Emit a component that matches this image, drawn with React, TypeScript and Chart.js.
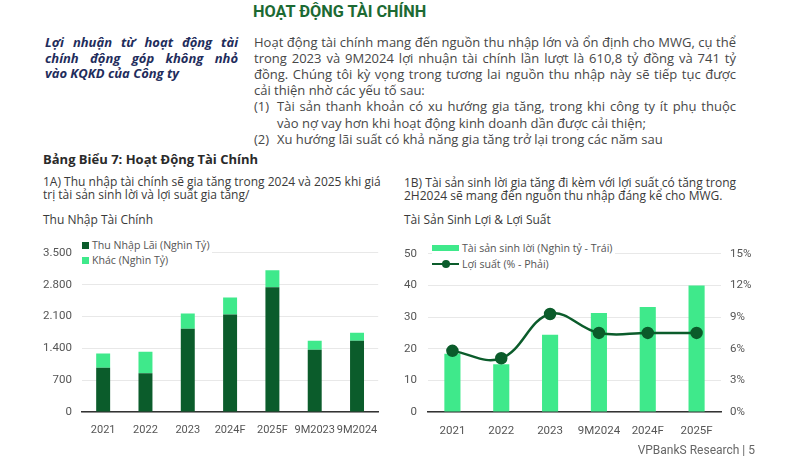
import React, { useEffect, useRef } from "react";
import { Chart, registerables } from "chart.js";

Chart.register(...registerables);

// ---- Data ----
const incomeCategories = ["2021", "2022", "2023", "2024F", "2025F", "9M2023", "9M2024"];
const interestIncome = [971, 851, 1829, 2146, 2744, 1372, 1569];
const otherIncome = [316, 472, 338, 373, 372, 197, 176];
const incomeTickStep = 700;
const incomeMax = 3500;

const assetCategories = ["2021", "2022", "2023", "9M2024", "2024F", "2025F"];
const earningAssets = [18.4, 15.1, 24.4, 31.3, 33.2, 40];
const yieldPct = [5.8, 5.1, 9.3, 7.5, 7.5, 7.5];
const assetMax = 50;
const assetStep = 10;
const yieldMax = 15;
const yieldStep = 3;

const FONT = "Roboto, 'Noto Sans', sans-serif";
const TEXT_FONT = "'Open Sans', 'Noto Sans', sans-serif";
const DARK = "#0b5c2b";
const LIGHT = "#3fe98b";
const TICK = "#555555";
const GRID = "#e8e8e8";

const fmtThousand = (v: number) =>
  String(Math.round(v)).replace(/\B(?=(\d{3})+(?!\d))/g, ".");

function LeftChart() {
  const ref = useRef<HTMLCanvasElement | null>(null);
  useEffect(() => {
    if (!ref.current) return;
    const chart = new Chart(ref.current, {
      type: "bar",
      data: {
        labels: incomeCategories,
        datasets: [
          {
            label: "Thu Nhập Lãi (Nghìn Tỷ)",
            data: interestIncome,
            backgroundColor: DARK,
            stack: "s",
            barPercentage: 0.33,
            categoryPercentage: 1,
          },
          {
            label: "Khác (Nghìn Tỷ)",
            data: otherIncome,
            backgroundColor: LIGHT,
            stack: "s",
            barPercentage: 0.33,
            categoryPercentage: 1,
          },
        ],
      },
      options: {
        animation: false,
        responsive: false,
        maintainAspectRatio: false,
        layout: { padding: { left: 10, right: 10, top: 11, bottom: 0 } },
        plugins: { legend: { display: false }, tooltip: { enabled: false } },
        scales: {
          x: {
            stacked: true,
            grid: { display: false, drawTicks: false },
            border: { display: true, color: "#333333", width: 1.5 },
            ticks: { padding: 12, color: TICK, font: { family: FONT, size: 11 }, maxRotation: 0, autoSkip: false },
            afterFit: (s: any) => { s.height = 40; },
          },
          y: {
            stacked: true,
            min: 0,
            max: incomeMax,
            ticks: {
              stepSize: incomeTickStep,
              padding: 10,
              color: TICK,
              font: { family: FONT, size: 11.5 },
              callback: (v: any) => fmtThousand(Number(v)),
            },
            grid: { color: GRID, drawTicks: false },
            border: { display: false },
            afterFit: (s: any) => { s.width = 42; },
          },
        },
      } as any,
    });
    return () => chart.destroy();
  }, []);
  return (
    <canvas
      ref={ref}
      width={360}
      height={216}
      style={{ position: "absolute", left: 30, top: 236, width: 360, height: 216 }}
    />
  );
}

function RightChart() {
  const ref = useRef<HTMLCanvasElement | null>(null);
  useEffect(() => {
    if (!ref.current) return;
    const chart = new Chart(ref.current, {
      type: "bar",
      data: {
        labels: assetCategories,
        datasets: [
          {
            type: "line",
            label: "Lợi suất (% - Phải)",
            data: yieldPct,
            yAxisID: "y1",
            borderColor: DARK,
            backgroundColor: DARK,
            borderWidth: 2.5,
            pointRadius: 5,
            pointBackgroundColor: DARK,
            pointBorderColor: DARK,
            tension: 0.4,
            order: 0,
          },
          {
            type: "bar",
            label: "Tài sản sinh lời (Nghìn tỷ - Trái)",
            data: earningAssets,
            yAxisID: "y",
            backgroundColor: LIGHT,
            barPercentage: 0.33,
            categoryPercentage: 1,
            order: 1,
          },
        ],
      },
      options: {
        animation: false,
        responsive: false,
        maintainAspectRatio: false,
        layout: { padding: { left: 10, right: 31, top: 10, bottom: 0 } },
        plugins: { legend: { display: false }, tooltip: { enabled: false } },
        scales: {
          x: {
            grid: { display: false, drawTicks: false },
            border: { display: true, color: "#333333", width: 1.5 },
            ticks: { padding: 12, color: TICK, font: { family: FONT, size: 11.5 }, maxRotation: 0, autoSkip: false },
            afterFit: (s: any) => { s.height = 40; },
          },
          y: {
            position: "left",
            min: 0,
            max: assetMax,
            ticks: { stepSize: assetStep, padding: 11, color: TICK, font: { family: FONT, size: 11.5 } },
            grid: { color: GRID, drawTicks: false },
            border: { display: false },
            afterFit: (s: any) => { s.width = 38; },
          },
          y1: {
            position: "right",
            min: 0,
            max: yieldMax,
            ticks: {
              stepSize: yieldStep,
              padding: 9,
              color: TICK,
              font: { family: FONT, size: 11.5 },
              callback: (v: any) => `${v}%`,
            },
            grid: { display: false, drawTicks: false },
            border: { display: false },
            afterFit: (s: any) => { s.width = 40; },
          },
        },
      } as any,
    });
    return () => chart.destroy();
  }, []);
  return (
    <canvas
      ref={ref}
      width={412}
      height={216}
      style={{ position: "absolute", left: 380, top: 236, width: 412, height: 216 }}
    />
  );
}

const abs = (left: number, top: number, extra: React.CSSProperties = {}): React.CSSProperties => ({
  position: "absolute",
  left,
  top,
  whiteSpace: "nowrap",
  ...extra,
});

const paraLines: { text: string; indent: number; justify: boolean; marker?: string }[] = [
  { text: "Hoạt động tài chính mang đến nguồn thu nhập lớn và ổn định cho MWG, cụ thể", indent: 0, justify: true },
  { text: "trong 2023 và 9M2024 lợi nhuận tài chính lần lượt là 610,8 tỷ đồng và 741 tỷ", indent: 0, justify: true },
  { text: "đồng. Chúng tôi kỳ vọng trong tương lai nguồn thu nhập này sẽ tiếp tục được", indent: 0, justify: true },
  { text: "cải thiện nhờ các yếu tố sau:", indent: 0, justify: false },
  { text: "Tài sản thanh khoản có xu hướng gia tăng, trong khi công ty ít phụ thuộc", indent: 23, justify: true, marker: "(1)" },
  { text: "vào nợ vay hơn khi hoạt động kinh doanh dần được cải thiện;", indent: 23, justify: false },
  { text: "Xu hướng lãi suất có khả năng gia tăng trở lại trong các năm sau", indent: 23, justify: false, marker: "(2)" },
];

const sideLines = [
  { text: "Lợi nhuận từ hoạt động tài", justify: true },
  { text: "chính động góp không nhỏ", justify: true },
  { text: "vào KQKD của Công ty", justify: false },
];

export default function App() {
  useEffect(() => {
    document.body.style.margin = "0";
  }, []);
  const PARA_LH = 16.1;
  const subStyle: React.CSSProperties = { fontSize: 12, color: "#3a3a3a", lineHeight: "14px" };
  return (
    <div
      style={{
        position: "absolute",
        left: 0,
        top: 0,
        width: 792,
        height: 472,
        background: "#ffffff",
        overflow: "hidden",
        fontFamily: TEXT_FONT,
      }}
    >
      {/* Title */}
      <div style={abs(253, 2, { fontFamily: FONT, fontSize: 16.3, fontWeight: 700, color: "#1c6a33", lineHeight: "20px" })}>
        HOẠT ĐỘNG TÀI CHÍNH
      </div>

      {/* Side italic note */}
      {sideLines.map((l, i) => (
        <div
          key={i}
          style={abs(45, 34 + i * 15.7, {
            width: 193,
            fontSize: 13,
            fontWeight: 700,
            fontStyle: "italic",
            color: "#1f2d5c",
            lineHeight: "17px",
            textAlign: l.justify ? "justify" : "left",
            textAlignLast: l.justify ? "justify" : "left",
          } as any)}
        >
          {l.text}
        </div>
      ))}

      {/* Paragraph */}
      {paraLines.map((l, i) => (
        <React.Fragment key={i}>
          {l.marker && (
            <div style={abs(254, 34 + i * PARA_LH, { fontSize: 13, color: "#474747", lineHeight: "17px" })}>
              {l.marker}
            </div>
          )}
          <div
            style={abs(254 + l.indent, 34 + i * PARA_LH, {
              width: 482 - l.indent,
              fontSize: 13,
              color: "#474747",
              lineHeight: "17px",
              textAlign: l.justify ? "justify" : "left",
              textAlignLast: l.justify ? "justify" : "left",
            } as any)}
          >
            {l.text}
          </div>
        </React.Fragment>
      ))}

      {/* Left section headings */}
      <div style={abs(43, 151, { fontSize: 13, fontWeight: 700, color: "#2a2a2a", lineHeight: "17px" })}>
        Bảng Biểu 7: Hoạt Động Tài Chính
      </div>
      <div style={abs(43, 175, subStyle)}>
        1A) Thu nhập tài chính sẽ gia tăng trong 2024 và 2025 khi giá
      </div>
      <div style={abs(43, 188, subStyle)}>
        trị tài sản sinh lời và lợi suất gia tăng/
      </div>
      <div style={abs(43, 213, subStyle)}>
        Thu Nhập Tài Chính
      </div>

      {/* Right section headings */}
      <div style={abs(404, 176, subStyle)}>
        1B) Tài sản sinh lời gia tăng đi kèm với lợi suất có tăng trong
      </div>
      <div style={abs(404, 189, subStyle)}>
        2H2024 sẽ mang đến nguồn thu nhập đáng kể cho MWG.
      </div>
      <div style={abs(404, 213, subStyle)}>
        Tài Sản Sinh Lợi &amp; Lợi Suất
      </div>

      <LeftChart />
      <RightChart />

      {/* Left legend */}
      <div style={abs(82, 238, { fontSize: 10.6, color: TICK, lineHeight: "15px", background: "#fff", paddingRight: 2 })}>
        <div style={{ display: "flex", alignItems: "center" }}>
          <span style={{ display: "inline-block", width: 7, height: 7, background: DARK, marginRight: 3 }} />
          Thu Nhập Lãi (Nghìn Tỷ)
        </div>
        <div style={{ display: "flex", alignItems: "center" }}>
          <span style={{ display: "inline-block", width: 7, height: 7, background: LIGHT, marginRight: 3 }} />
          Khác (Nghìn Tỷ)
        </div>
      </div>

      {/* Right legend */}
      <div style={abs(432, 240, { fontSize: 10.6, color: TICK, lineHeight: "16px", background: "#fff", paddingRight: 2 })}>
        <div style={{ display: "flex", alignItems: "center" }}>
          <span style={{ display: "inline-block", width: 27, height: 6, background: LIGHT, marginRight: 3 }} />
          Tài sản sinh lời (Nghìn tỷ - Trái)
        </div>
        <div style={{ display: "flex", alignItems: "center" }}>
          <span style={{ position: "relative", display: "inline-block", width: 27, height: 8, marginRight: 3 }}>
            <span style={{ position: "absolute", left: 0, top: 3, width: 27, height: 2, background: DARK }} />
            <span style={{ position: "absolute", left: 10, top: 0, width: 8, height: 8, borderRadius: 4, background: DARK }} />
          </span>
          Lợi suất (% - Phải)
        </div>
      </div>

      {/* Footer */}
      <div style={abs(0, 442, { fontFamily: FONT, width: 755, textAlign: "right", fontSize: 12, color: "#666", lineHeight: "16px" })}>
        VPBankS Research | 5
      </div>
    </div>
  );
}
